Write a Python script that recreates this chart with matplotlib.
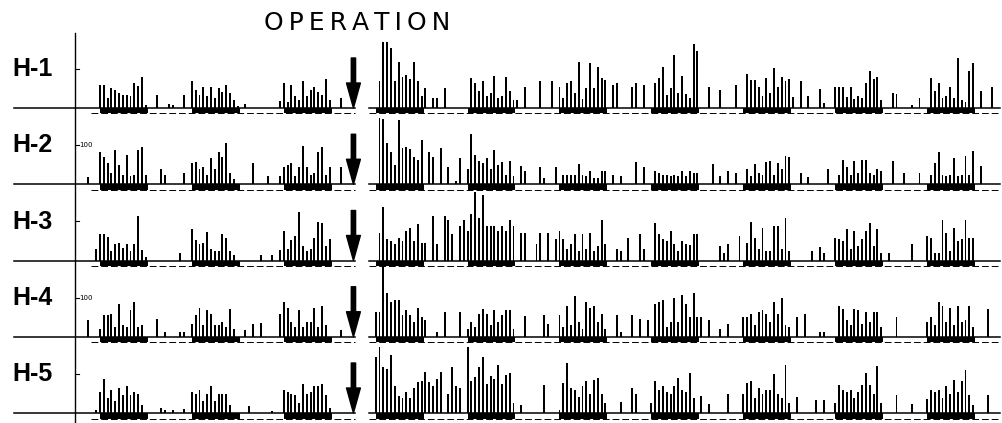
import matplotlib
matplotlib.use("Agg")
import matplotlib.pyplot as plt
import numpy as np

# ---------------- data ----------------
animals = ["H-1", "H-2", "H-3", "H-4", "H-5"]
n_days = 10
hours_per_day = 24
operation_hour = 72.7          # time of operation (hours from start)
dark_on, dark_off = 6.5, 19.0  # dark phase within each day (hours)
ref_tick = 100                 # scale mark (counts)

# hourly activity counts, one list of 24 values per day
h1_counts = [
    [0,0,0,0,0,0,60,60,25,50,45,38,33,33,30,64,56,80,8,0,0,33,0,0],
    [10,8,0,0,33,0,68,45,33,55,30,55,25,50,40,58,38,20,5,0,10,0,0,0],
    [0,0,0,0,0,18,63,15,60,30,20,70,30,45,53,40,33,75,20,0,0,25,0,0],
    [0,0,0,0,0,0,0,68,168,168,155,68,118,80,85,75,118,70,30,50,0,25,25,0],
    [50,0,0,0,0,0,0,78,63,43,68,30,38,83,25,30,80,43,20,20,0,53,0,0],
    [0,68,0,0,68,0,53,25,63,68,38,118,23,50,115,50,105,78,73,0,58,65,0,0],
    [0,53,63,0,58,0,0,63,78,105,33,50,135,38,83,35,25,163,145,0,0,55,0,0],
    [45,0,0,0,60,0,0,88,73,73,55,30,78,38,103,55,80,68,75,28,0,70,0,30],
    [0,0,48,13,0,0,55,53,55,28,53,23,30,25,65,95,75,80,20,0,0,38,35,0],
    [0,0,8,0,25,0,0,78,43,65,25,30,55,25,128,20,15,95,115,0,43,0,0,53],
]
h2_counts = [
    [0,0,0,18,0,0,83,70,55,30,88,50,25,75,20,25,88,95,25,0,0,0,38,25],
    [0,0,0,0,30,0,55,58,38,45,25,68,38,83,70,105,30,13,0,0,0,0,55,0],
    [0,0,20,0,0,20,43,50,55,20,43,98,43,25,30,83,95,25,43,0,0,45,0,0],
    [0,0,0,0,0,0,0,170,168,105,83,50,165,93,95,90,70,63,113,0,83,70,0,93],
    [0,43,0,8,68,0,38,130,75,60,55,68,38,88,50,58,25,60,20,0,48,33,0,0],
    [0,45,15,0,0,45,0,23,23,25,25,53,23,20,33,15,15,33,33,0,23,0,20,0],
    [0,0,58,0,45,0,0,35,28,25,23,20,23,20,33,20,35,30,30,0,0,0,53,0],
    [20,0,35,0,28,0,0,40,20,53,30,25,58,60,25,55,38,73,70,0,0,28,0,18],
    [0,0,0,0,40,0,0,23,63,45,25,60,30,63,63,30,25,38,35,0,0,60,0,0],
    [30,0,0,0,30,0,0,25,55,83,25,20,25,68,20,25,73,25,85,0,48,0,0,0],
]
h3_counts = [
    [0,0,0,0,0,30,68,68,60,25,43,45,33,43,25,43,113,28,10,0,0,0,0,0],
    [0,0,0,20,0,0,80,53,43,45,73,30,25,25,68,58,25,15,0,0,0,0,0,0],
    [15,0,0,13,0,28,75,30,53,63,125,38,25,30,58,100,95,38,55,0,0,0,0,0],
    [0,0,0,0,0,0,0,70,138,55,50,43,58,50,75,83,50,93,45,45,0,113,43,0],
    [113,105,68,0,88,105,75,118,175,108,168,88,88,88,75,88,75,105,88,0,70,70,0,0],
    [43,70,0,70,0,55,75,55,30,43,68,25,68,30,70,25,38,105,43,0,0,30,25,0],
    [58,0,0,68,30,0,0,95,68,55,50,75,43,25,50,43,40,68,68,0,0,0,0,0],
    [38,20,43,0,0,63,0,45,100,58,30,83,25,25,88,88,30,108,25,0,0,0,0,0],
    [25,0,35,20,0,0,58,55,50,80,30,75,38,55,75,95,38,80,20,0,20,0,0,0],
    [0,0,43,0,0,0,63,58,20,20,105,70,25,83,50,55,105,58,58,0,0,0,0,0],
]
h4_counts = [
    [0,0,0,43,0,0,20,55,55,58,25,83,30,25,68,88,25,30,0,0,0,45,0,13],
    [0,0,0,13,13,0,33,55,75,30,68,58,30,30,38,25,70,20,0,0,18,0,33,0],
    [35,0,0,0,0,58,88,75,38,25,68,25,38,38,75,25,80,30,0,0,0,18,0,0],
    [0,0,0,0,0,0,63,63,185,113,88,95,93,55,68,55,38,75,50,43,0,0,13,0],
    [63,0,0,0,63,0,20,38,25,58,70,58,30,68,38,55,68,68,20,0,0,53,0,0],
    [0,0,55,33,0,0,55,25,80,30,105,38,20,88,75,80,38,58,20,0,0,55,13,0],
    [0,55,0,45,0,43,0,83,88,93,25,38,100,38,108,83,50,113,50,50,0,43,0,0],
    [20,0,33,0,0,0,50,50,58,30,63,68,58,38,88,58,100,30,25,0,50,0,58,0],
    [0,0,13,13,0,0,0,80,70,43,30,70,68,33,63,38,63,63,25,0,0,0,50,0],
    [0,0,0,0,0,0,38,50,30,88,80,38,75,30,80,38,43,80,25,0,0,0,70,0],
]
h5_counts = [
    [0,0,0,0,0,8,55,88,38,58,30,63,45,68,45,55,50,20,0,0,0,0,13,8],
    [0,8,0,0,10,0,55,50,58,30,50,68,30,50,48,48,20,0,0,0,0,18,0,0],
    [0,0,0,5,0,0,60,55,50,45,25,75,50,55,68,70,75,45,13,0,0,0,0,0],
    [0,0,0,0,0,0,143,170,118,113,150,68,43,38,55,38,63,80,83,105,80,68,88,105],
    [0,50,118,68,63,0,168,83,93,118,143,75,95,88,123,75,98,103,25,0,20,0,0,0],
    [0,0,73,0,0,0,8,78,128,63,58,40,70,83,50,85,90,50,25,0,0,0,28,0],
    [0,65,48,0,0,0,25,83,58,70,55,50,70,90,58,55,103,38,0,43,0,23,0,0],
    [0,0,48,0,0,0,50,78,83,38,65,50,58,58,100,50,38,123,25,0,40,0,0,0],
    [0,33,0,33,0,0,25,73,60,55,60,38,55,73,103,73,50,120,25,0,0,0,45,0],
    [0,0,23,0,0,0,35,58,53,58,38,70,50,85,55,83,110,45,20,0,0,0,45,0],
]
all_counts = [h1_counts, h2_counts, h3_counts, h4_counts, h5_counts]

# ---------------- layout ----------------
W, H = 1002, 423
px_per_hour = 3.83
px_per_count = 39.0 / 100.0
x0_px = 75.0                   # time zero (vertical axis)
base_px = [108, 184.25, 260.5, 336.75, 413]   # baselines (pixels from top)

fig = plt.figure(figsize=(W / 100, H / 100), dpi=100)
ax = fig.add_axes([0, 0, 1, 1])
ax.set_xlim(-x0_px / px_per_hour, (W - x0_px) / px_per_hour)
ax.set_ylim(-(H - base_px[-1]) / px_per_count, base_px[-1] / px_per_count)
ax.axis("off")

row_step = (base_px[-1] - base_px[0]) / 4 / px_per_count
strip_h = 5.5 / px_per_count
hours = np.arange(hours_per_day)
gap_lo, gap_hi = (355 - x0_px) / px_per_hour, (369 - x0_px) / px_per_hour
x_left, x_right = (14 - x0_px) / px_per_hour, (1000 - x0_px) / px_per_hour

for i, (name, counts) in enumerate(zip(animals, all_counts)):
    off = (len(animals) - 1 - i) * row_step
    # activity bars
    for d, day_vals in enumerate(counts):
        vals = np.asarray(day_vals, float)
        m = vals > 0
        ax.bar(d * hours_per_day + hours[m] + 0.5, vals[m], bottom=off,
               width=0.5, color="black", linewidth=0)
    # light/dark strip
    darks = [(d * hours_per_day + dark_on, dark_off - dark_on) for d in range(n_days)]
    ax.broken_barh(darks, (off - strip_h, strip_h), facecolors="black")
    ax.plot([x_left + 20, gap_lo], [off - strip_h, off - strip_h], color="black",
            lw=0.7, ls=(0, (7, 3)))
    ax.plot([gap_hi, x_right], [off - strip_h, off - strip_h], color="black",
            lw=0.7, ls=(0, (7, 3)))
    # baseline (broken at the operation)
    ax.plot([x_left, gap_lo], [off, off], color="black", lw=1.1)
    ax.plot([gap_hi, x_right], [off, off], color="black", lw=1.1)
    # scale tick
    ax.plot([0, 1.0], [off + ref_tick, off + ref_tick], color="black", lw=0.8)
    if name in ("H-2", "H-4"):
        ax.text(1.2, off + ref_tick, "100", fontsize=5, va="center", ha="left")
    # label
    ax.text((12 - x0_px) / px_per_hour, off + ref_tick, name, fontsize=18,
            fontweight="bold", va="center", ha="left", family="Liberation Sans")
    # operation arrow
    ax.annotate("", xy=(operation_hour, off), xytext=(operation_hour, off + 50 / px_per_count),
                arrowprops=dict(arrowstyle="simple,head_length=1.8,head_width=1.0,tail_width=0.31",
                                mutation_scale=10, color="black", shrinkA=0, shrinkB=0))

# vertical axis
ax.plot([0, 0], [-(H - base_px[-1]) / px_per_count, (base_px[-1] - 33) / px_per_count],
        color="black", lw=1.0)

fig.text(357 / W, 1 - 23 / H, "\u2009".join("OPERATION"), fontsize=18, ha="center",
         va="center", family="DejaVu Sans")

fig.savefig("out.png", dpi=100, facecolor="white")
